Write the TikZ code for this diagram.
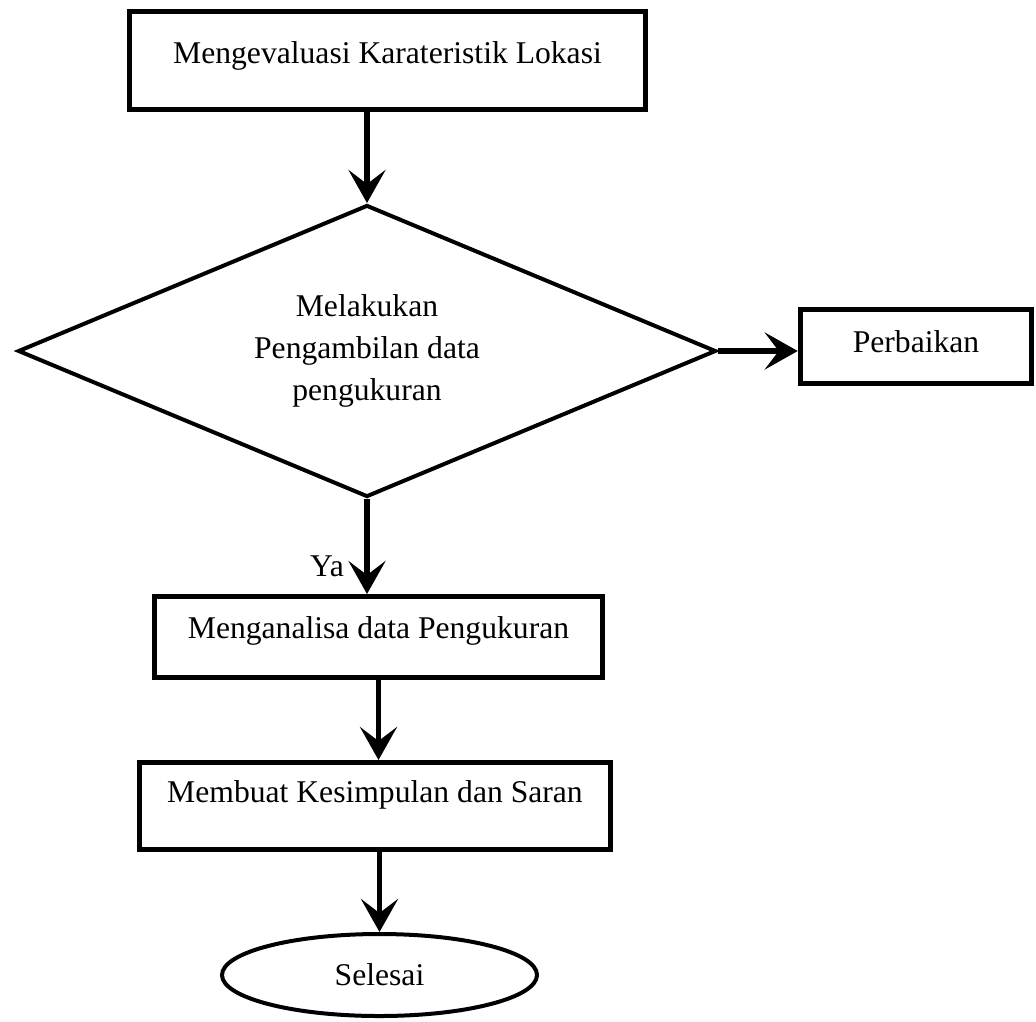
\documentclass[tikz,border=0pt]{standalone}
\usepackage{fontspec}
\setmainfont{Liberation Serif}
\usetikzlibrary{shapes.geometric,arrows.meta}

\tikzset{
  procbox/.style={draw, rectangle, line width=1mm, inner sep=0pt, align=center},
  decbox/.style={draw, diamond, aspect=2.4, line width=0.8mm, inner sep=0pt, align=center,
    minimum width=139.6mm, minimum height=58.4mm},
  endbox/.style={draw, ellipse, line width=0.8mm, inner sep=0pt,
    minimum width=63mm, minimum height=16.4mm},
  flow/.style={line width=1.1mm, -{Stealth[length=6.6mm,width=7.4mm,inset=2.8mm]}}
}

\begin{document}
\begin{tikzpicture}[x=0.2mm, y=-0.2mm, font=\fontsize{18}{24}\selectfont]
  \useasboundingbox (0,0) rectangle (1036,1021);

  % Steps
  \node[procbox, minimum width=103.2mm, minimum height=19.6mm, text depth=9pt]
    (eval) at (387.5,60.5) {Mengevaluasi Karateristik Lokasi};
  \node[decbox] (dec) at (367,351) {Melakukan\\Pengambilan data\\pengukuran};
  \node[procbox, minimum width=46.3mm, minimum height=14.8mm, text depth=5.5pt]
    (fix) at (916,346.5) {Perbaikan};
  \node[procbox, minimum width=89.6mm, minimum height=16.2mm, text depth=10.5pt]
    (anal) at (378.5,637) {Menganalisa data Pengukuran};
  \node[procbox, minimum width=94.2mm, minimum height=17.4mm, text depth=16pt]
    (concl) at (375,806) {Membuat Kesimpulan dan Saran};
  \node[endbox] (stop) at (379.5,975) {Selesai};

  % Connectors
  \draw[flow] (eval.south -| dec.north) -- (dec.north);
  \draw[flow] (dec.east) -- (dec.east -| fix.west);
  \draw[flow] (dec.south) -- (anal.north -| dec.south)
    node[pos=0.71, xshift=-8mm] (ya) {Ya};
  \draw[flow] (anal.south) -- (anal.south |- concl.north);
  \draw[flow] (concl.south -| stop.north) -- (stop.north);
\end{tikzpicture}
\end{document}
